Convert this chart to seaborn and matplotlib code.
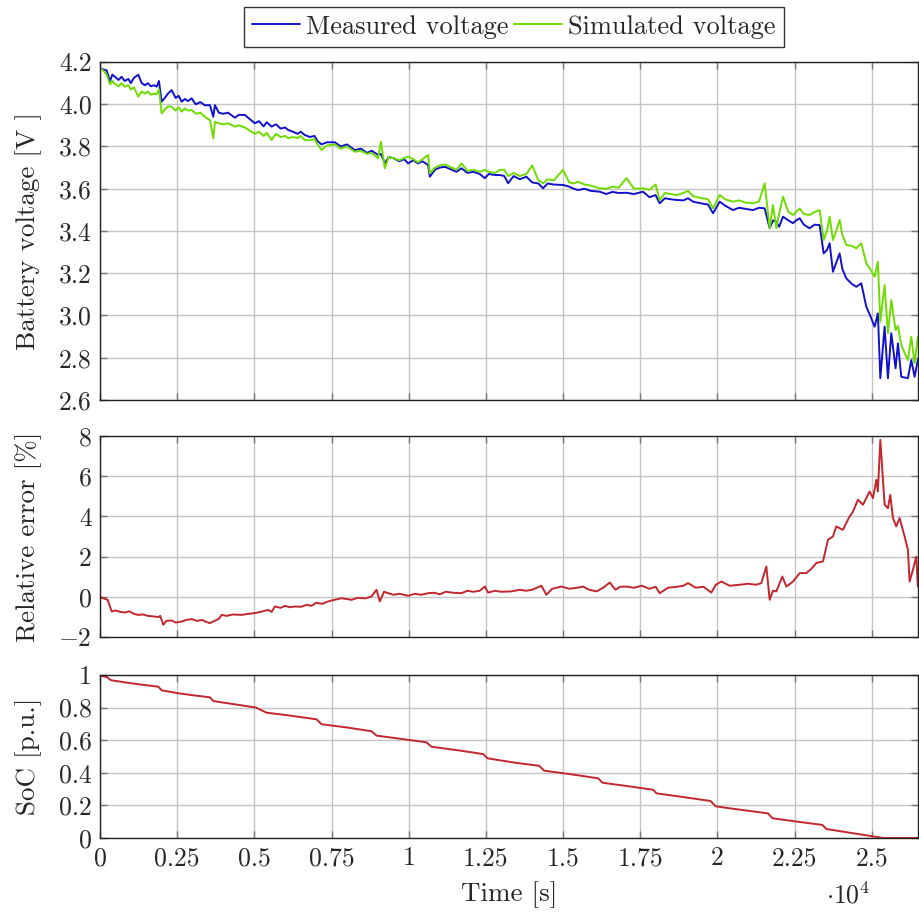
import numpy as np
import pandas as pd
import matplotlib
matplotlib.use("Agg")
import matplotlib.pyplot as plt
import seaborn as sns

# ---------------- data ----------------
t_volt = [
    0, 100, 216, 324, 400, 486, 600, 700, 800, 918,
    1000, 1100, 1241, 1350, 1457, 1550, 1650, 1750, 1835, 1910,
    1997, 2100, 2200, 2320, 2450, 2550, 2645, 2750, 2850, 2969,
    3100, 3250, 3400, 3562, 3670, 3724, 3850, 4000, 4150, 4371,
    4500, 4695, 4850, 5019, 5150, 5300, 5400, 5559, 5700, 5850,
    6000, 6098, 6250, 6400, 6500, 6638, 6800, 6950, 7050, 7177,
    7350, 7609, 7800, 8000, 8257, 8450, 8650, 8800, 9012, 9100,
    9228, 9350, 9500, 9700, 9850, 9983, 10150, 10300, 10450, 10631,
    10685, 10850, 11000, 11171, 11400, 11550, 11711, 11900, 12100, 12300,
    12466, 12600, 12800, 12953, 13100, 13221, 13400, 13600, 13815, 14000,
    14200, 14354, 14500, 14700, 15002, 15200, 15350, 15488, 15700, 15900,
    16190, 16400, 16600, 16800, 17055, 17300, 17593, 17800, 18000, 18133,
    18300, 18500, 18673, 18900, 19050, 19212, 19500, 19700, 19860, 20076,
    20250, 20508, 20700, 20900, 21155, 21350, 21533, 21695, 21800, 21911,
    22000, 22127, 22300, 22451, 22550, 22667, 22800, 22990, 23150, 23314,
    23443, 23550, 23637, 23745, 23850, 23961, 24050, 24177, 24350, 24501,
    24663, 24825, 24950, 25095, 25200, 25280, 25418, 25526, 25634, 25774,
    25850, 25958, 26173, 26282, 26390, 26496,
]
v_measured = [
    4.17, 4.165, 4.16, 4.11, 4.14, 4.13, 4.115, 4.13, 4.11, 4.12,
    4.10, 4.125, 4.14, 4.10, 4.09, 4.10, 4.085, 4.09, 4.083, 4.11,
    4.012, 4.03, 4.05, 4.067, 4.03, 4.04, 4.012, 4.025, 4.015, 4.028,
    4.00, 4.01, 3.995, 3.996, 3.941, 3.996, 3.96, 3.955, 3.96, 3.936,
    3.95, 3.949, 3.93, 3.91, 3.92, 3.895, 3.915, 3.894, 3.905, 3.885,
    3.89, 3.878, 3.87, 3.86, 3.87, 3.854, 3.845, 3.85, 3.825, 3.81,
    3.82, 3.82, 3.80, 3.81, 3.783, 3.79, 3.77, 3.78, 3.76, 3.765,
    3.72, 3.75, 3.745, 3.73, 3.74, 3.72, 3.735, 3.72, 3.73, 3.712,
    3.657, 3.69, 3.70, 3.704, 3.69, 3.68, 3.697, 3.675, 3.68, 3.67,
    3.65, 3.67, 3.665, 3.665, 3.66, 3.626, 3.66, 3.645, 3.657, 3.63,
    3.625, 3.602, 3.625, 3.62, 3.618, 3.61, 3.60, 3.594, 3.60, 3.59,
    3.586, 3.575, 3.585, 3.58, 3.581, 3.575, 3.586, 3.56, 3.57, 3.531,
    3.555, 3.55, 3.547, 3.545, 3.555, 3.539, 3.53, 3.525, 3.484, 3.539,
    3.52, 3.499, 3.51, 3.505, 3.499, 3.51, 3.507, 3.413, 3.45, 3.444,
    3.42, 3.468, 3.45, 3.437, 3.45, 3.46, 3.43, 3.413, 3.43, 3.428,
    3.294, 3.31, 3.342, 3.207, 3.25, 3.294, 3.22, 3.176, 3.15, 3.136,
    3.152, 3.042, 3.00, 2.947, 3.01, 2.703, 2.947, 2.703, 2.916, 2.75,
    2.868, 2.71, 2.703, 2.789, 2.71, 2.79,
]
v_simulated = [
    4.17, 4.16, 4.14, 4.094, 4.11, 4.095, 4.085, 4.10, 4.083, 4.09,
    4.07, 4.08, 4.036, 4.06, 4.05, 4.06, 4.045, 4.05, 4.047, 4.07,
    3.957, 3.975, 3.99, 3.988, 3.97, 3.985, 3.965, 3.98, 3.97, 3.973,
    3.955, 3.96, 3.94, 3.925, 3.839, 3.917, 3.91, 3.905, 3.91, 3.894,
    3.90, 3.89, 3.875, 3.86, 3.87, 3.85, 3.865, 3.831, 3.86, 3.845,
    3.85, 3.839, 3.845, 3.84, 3.85, 3.83, 3.83, 3.835, 3.81, 3.783,
    3.805, 3.81, 3.79, 3.80, 3.775, 3.78, 3.765, 3.77, 3.744, 3.823,
    3.697, 3.75, 3.745, 3.735, 3.745, 3.752, 3.74, 3.725, 3.74, 3.76,
    3.673, 3.70, 3.71, 3.715, 3.70, 3.69, 3.72, 3.685, 3.69, 3.68,
    3.689, 3.68, 3.675, 3.689, 3.69, 3.66, 3.675, 3.66, 3.67, 3.71,
    3.64, 3.626, 3.645, 3.64, 3.689, 3.63, 3.625, 3.633, 3.62, 3.615,
    3.602, 3.60, 3.61, 3.605, 3.65, 3.60, 3.602, 3.595, 3.62, 3.545,
    3.58, 3.575, 3.57, 3.58, 3.59, 3.565, 3.555, 3.55, 3.507, 3.57,
    3.55, 3.539, 3.545, 3.535, 3.531, 3.54, 3.626, 3.413, 3.523, 3.413,
    3.48, 3.562, 3.49, 3.476, 3.49, 3.507, 3.48, 3.476, 3.49, 3.499,
    3.357, 3.40, 3.468, 3.357, 3.40, 3.452, 3.38, 3.334, 3.33, 3.318,
    3.342, 3.247, 3.22, 3.184, 3.255, 2.97, 3.144, 2.916, 3.073, 2.931,
    2.95, 2.86, 2.789, 2.9, 2.774, 2.9,
]

t_error = [
    0, 54, 248, 378, 500, 650, 810, 950, 1100, 1241,
    1400, 1550, 1700, 1890, 1950, 2050, 2150, 2320, 2450, 2645,
    2800, 2969, 3150, 3300, 3450, 3562, 3700, 3850, 3940, 4100,
    4300, 4587, 4800, 5019, 5200, 5450, 5560, 5667, 5850, 6000,
    6150, 6314, 6500, 6700, 6854, 7000, 7200, 7393, 7600, 7825,
    7950, 8150, 8350, 8600, 8796, 8958, 9066, 9200, 9336, 9500,
    9700, 9983, 10200, 10400, 10631, 10850, 11000, 11200, 11450, 11711,
    11900, 12100, 12300, 12466, 12574, 12800, 13000, 13329, 13600, 13800,
    14000, 14300, 14460, 14650, 14950, 15200, 15450, 15650, 15850, 16083,
    16300, 16514, 16700, 16850, 17055, 17300, 17550, 17800, 18000, 18133,
    18400, 18700, 18900, 19050, 19300, 19550, 19806, 19950, 20130, 20400,
    20723, 21000, 21250, 21425, 21587, 21695, 21800, 21911, 22105, 22235,
    22451, 22667, 22883, 23050, 23206, 23422, 23584, 23745, 23853, 24069,
    24250, 24393, 24555, 24717, 24933, 25041, 25150, 25200, 25280, 25418,
    25526, 25602, 25688, 25796, 25904, 26066, 26173, 26228, 26336, 26444,
    26496,
]
rel_error = [
    0.0, -0.05, -0.15, -0.73, -0.68, -0.75, -0.78, -0.72, -0.85, -0.9,
    -0.88, -0.95, -0.97, -1.01, -0.95, -1.39, -1.2, -1.18, -1.28, -1.23,
    -1.15, -1.11, -1.2, -1.15, -1.25, -1.31, -1.2, -1.1, -0.9, -0.95,
    -0.88, -0.9, -0.85, -0.81, -0.75, -0.65, -0.75, -0.48, -0.55, -0.45,
    -0.52, -0.48, -0.5, -0.4, -0.45, -0.3, -0.35, -0.23, -0.15, -0.07,
    -0.1, -0.15, -0.05, -0.08, 0.02, 0.35, -0.23, 0.25, 0.18, 0.1,
    0.15, 0.05, 0.15, 0.1, 0.18, 0.2, 0.12, 0.25, 0.2, 0.18,
    0.3, 0.25, 0.3, 0.51, 0.21, 0.3, 0.25, 0.27, 0.35, 0.3,
    0.35, 0.55, 0.1, 0.4, 0.51, 0.4, 0.45, 0.51, 0.35, 0.27,
    0.45, 0.71, 0.35, 0.5, 0.51, 0.45, 0.55, 0.4, 0.5, 0.18,
    0.45, 0.5, 0.55, 0.68, 0.45, 0.5, 0.21, 0.6, 0.76, 0.55,
    0.6, 0.65, 0.6, 0.68, 1.51, -0.15, 0.3, 0.27, 1.01, 0.51,
    0.76, 1.18, 1.18, 1.4, 1.68, 1.76, 2.84, 3.0, 3.5, 3.33,
    3.9, 4.24, 4.83, 4.58, 5.24, 4.91, 5.82, 5.24, 7.81, 4.58,
    4.41, 5.07, 3.92, 3.5, 3.92, 3.0, 2.34, 0.76, 1.34, 2.0,
    0.51,
]

t_soc = [
    0, 216, 356, 800, 1300, 1890, 2000, 2537, 3000, 3562,
    3670, 4300, 5040, 5396, 6200, 7015, 7177, 8000, 8796, 8958,
    9800, 10577, 10738, 11600, 12412, 12555, 13440, 14228, 14390, 15300,
    16140, 16280, 17100, 17920, 18030, 18900, 19780, 19950, 20800, 21640,
    21785, 22600, 23404, 23534, 24300, 25045, 25369, 26490,
]
soc = [
    0.996, 0.988, 0.968, 0.955, 0.942, 0.928, 0.906, 0.888, 0.876, 0.863,
    0.840, 0.822, 0.801, 0.769, 0.750, 0.728, 0.698, 0.678, 0.655, 0.628,
    0.607, 0.587, 0.560, 0.538, 0.515, 0.489, 0.462, 0.443, 0.413, 0.390,
    0.366, 0.339, 0.318, 0.296, 0.274, 0.251, 0.227, 0.194, 0.172, 0.151,
    0.121, 0.100, 0.080, 0.055, 0.032, 0.010, 0.0, 0.0,
]

x_ticks = [0, 2500, 5000, 7500, 10000, 12500, 15000, 17500, 20000, 22500, 25000]
x_tick_labels = ["0", "0.25", "0.5", "0.75", "1", "1.25", "1.5", "1.75", "2", "2.25", "2.5"]
v_ticks = [2.6, 2.8, 3.0, 3.2, 3.4, 3.6, 3.8, 4.0, 4.2]
v_tick_labels = ["2.6", "2.8", "3.0", "3.2", "3.4", "3.6", "3.8", "4.0", "4.2"]
e_ticks = [-2, 0, 2, 4, 6, 8]
e_tick_labels = ["$-2$", "0", "2", "4", "6", "8"]
s_ticks = [0, 0.2, 0.4, 0.6, 0.8, 1.0]
s_tick_labels = ["0", "0.2", "0.4", "0.6", "0.8", "1"]

assert len(t_volt) == len(v_measured) == len(v_simulated)
assert len(t_error) == len(rel_error)
assert len(t_soc) == len(soc)

# ---------------- style ----------------
sns.set_style("ticks")
plt.rcParams["font.family"] = ["cmr10", "DejaVu Serif"]
plt.rcParams["mathtext.fontset"] = "cm"
plt.rcParams["axes.formatter.use_mathtext"] = True
FS = 18.5
YLFS = 19.5
LFS = 19

BLUE = "#1111cc"
GREEN = "#6fdc00"
RED = "#c1272d"

df_v = pd.DataFrame({
    "t": t_volt * 2,
    "v": v_measured + v_simulated,
    "series": ["Measured voltage"] * len(t_volt) + ["Simulated voltage"] * len(t_volt),
})
df_e = pd.DataFrame({"t": t_error, "e": rel_error})
df_s = pd.DataFrame({"t": t_soc, "s": soc})

fig = plt.figure(figsize=(9.19, 9.13), dpi=100)
W, H = 919, 913
def rect(x0, x1, ytop, ybot):
    return [x0 / W, 1 - ybot / H, (x1 - x0) / W, (ybot - ytop) / H]

ax1 = fig.add_axes(rect(100, 918, 62, 400))
ax2 = fig.add_axes(rect(100, 918, 436, 637))
ax3 = fig.add_axes(rect(100, 918, 675, 838))

sns.lineplot(data=df_v, x="t", y="v", hue="series", ax=ax1,
             palette={"Measured voltage": BLUE, "Simulated voltage": GREEN},
             linewidth=1.4, estimator=None, sort=False, legend=True)
sns.lineplot(data=df_e, x="t", y="e", ax=ax2, color=RED, linewidth=1.4,
             estimator=None, sort=False)
sns.lineplot(data=df_s, x="t", y="s", ax=ax3, color=RED, linewidth=1.4,
             estimator=None, sort=False)

for ax in (ax1, ax2, ax3):
    ax.set_xlim(0, 26500)
    ax.set_xticks(x_ticks)
    ax.grid(True, color="#c4c4c4", linewidth=1.0)
    ax.set_axisbelow(True)
    ax.tick_params(direction="in", length=5, width=1, color="#777777",
                   top=True, right=True, labelsize=FS, pad=6)
    for sp in ax.spines.values():
        sp.set_color("#222222")
        sp.set_linewidth(1.0)
    ax.set_xlabel("")

ax1.set_ylim(2.6, 4.2)
ax1.set_yticks(v_ticks)
ax1.set_yticklabels(v_tick_labels)
ax1.set_xticklabels([])
ax1.set_ylabel("Battery voltage [V ]", fontsize=YLFS)

ax2.set_ylim(-2, 8)
ax2.set_yticks(e_ticks)
ax2.set_yticklabels(e_tick_labels)
ax2.set_xticklabels([])
ax2.set_ylabel("Relative error [%]", fontsize=YLFS)

ax3.set_ylim(0, 1)
ax3.set_yticks(s_ticks)
ax3.set_yticklabels(s_tick_labels)
ax3.set_xticklabels(x_tick_labels)
ax3.set_ylabel("SoC [p.u.]", fontsize=YLFS)
ax3.set_xlabel("Time [s]", fontsize=YLFS, labelpad=8)

for ax in (ax1, ax2, ax3):
    ax.yaxis.set_label_coords(-0.071, 0.5)

fig.text(848 / W, 1 - 895 / H, r"$\cdot 10^4$", fontsize=FS, ha="center", va="center")

handles, labels = ax1.get_legend_handles_labels()
ax1.get_legend().remove()
leg = fig.legend(handles, labels, loc="upper center", bbox_to_anchor=(514 / W, 1 - 7 / H),
                 ncol=2, frameon=True, fancybox=False, edgecolor="black",
                 fontsize=LFS, handlelength=1.8, handletextpad=0.25, columnspacing=0.2,
                 borderpad=0.3, borderaxespad=0)
leg.get_frame().set_linewidth(1.0)

fig.savefig("out.png", dpi=100)
